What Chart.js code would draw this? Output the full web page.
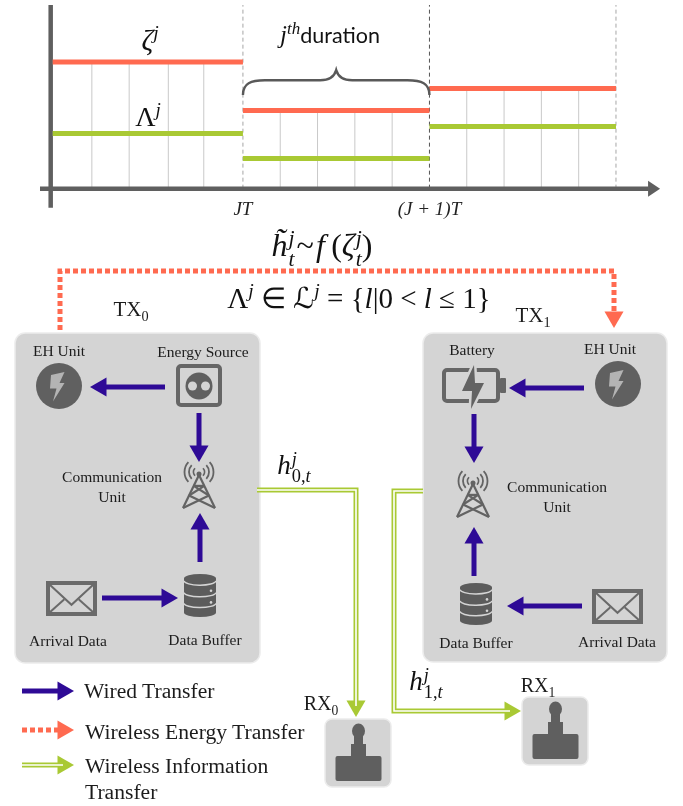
<!DOCTYPE html>
<html>
<head>
<meta charset="utf-8">
<script src="https://cdn.jsdelivr.net/npm/chart.js@4"></script>
<style>
html,body{margin:0;padding:0;background:#fff;overflow:hidden}
#wrap{position:relative;width:683px;height:806px}
canvas{position:absolute;left:0;top:0}
.t{position:absolute;white-space:nowrap;color:#1c1c1c;font-family:"Liberation Serif",serif;line-height:1}
.m{color:#111;font-size:23px}
sup,sub{font-size:.68em;line-height:0}
.ss{display:inline-flex;flex-direction:column;vertical-align:middle;font-size:.68em;line-height:.95;margin-left:1px}
</style>
</head>
<body>
<div id="wrap">
<canvas id="topChart" width="683" height="225" style="width:683px;height:225px"></canvas>
<canvas id="diagram" width="683" height="806" style="width:683px;height:806px"></canvas>
</div>
<script>
/* ---------- TOP PLOT DATA ---------- */
const durations   = [0, 1, 2, 3];             // boundaries, in units of T
const zetaLevels  = [0.689, 0.426, 0.546];    // red, one per duration
const lambdaLevels= [0.300, 0.164, 0.339];    // green, one per duration
const slotTicks   = [0.19,0.39,0.60,0.79, 1.2,1.4,1.6,1.8, 2.2,2.4,2.6,2.8];
const tickLabels  = {1:'JT', 2:'(J + 1)T'};

const RED='#ff6a50', GREEN='#a9c934', BLUE='#2e0a96', GREY='#5f5f5f', PANEL='#d4d4d4';

/* ---------- TOP PLOT ---------- */
const stepSeries = levels => levels.flatMap((v,i)=>[
  {x:i===0?-0.02:durations[i],y:v},{x:durations[i+1],y:v},{x:durations[i+1],y:null}
]);
const levelAt = x => zetaLevels[Math.min(Math.floor(x),2)];
const slotSeries = slotTicks.flatMap(x=>[{x,y:0},{x,y:levelAt(x)},{x,y:null}]);
const boundSeries = [1,2,3].map(x=>[{x,y:0},{x,y:1}]);

const line = (data,color,width,extra={}) => ({data,borderColor:color,borderWidth:width,showLine:true,
  pointRadius:0,spanGaps:false,clip:false,borderCapStyle:'butt',...extra});

const drawBrace = {
  id:'brace',
  afterDatasetsDraw(c){
    const {ctx,scales:{x,y}}=c;
    const l=x.getPixelForValue(1), r=x.getPixelForValue(2), m=(l+r)/2;
    const bot=y.getPixelForValue(0.51), mid=y.getPixelForValue(0.59), tip=y.getPixelForValue(0.645);
    ctx.save();
    ctx.strokeStyle='#595959';ctx.lineWidth=2.4;
    ctx.beginPath();
    ctx.moveTo(l,bot);
    ctx.bezierCurveTo(l,mid+3,l+8,mid,l+22,mid);
    ctx.lineTo(m-16,mid);
    ctx.bezierCurveTo(m-7,mid,m-2,mid-3,m,tip);
    ctx.bezierCurveTo(m+2,mid-3,m+7,mid,m+16,mid);
    ctx.lineTo(r-22,mid);
    ctx.bezierCurveTo(r-8,mid,r,mid+3,r,bot);
    ctx.stroke();
    // arrow head of the time axis
    const ay=y.getPixelForValue(0), ax=x.getPixelForValue(3.172);
    ctx.fillStyle=GREY;
    ctx.beginPath();ctx.moveTo(ax,ay-8);ctx.lineTo(ax+12,ay);ctx.lineTo(ax,ay+8);ctx.closePath();ctx.fill();
    ctx.restore();
  }
};

new Chart(document.getElementById('topChart'),{
  type:'scatter',
  data:{datasets:[
    line(stepSeries(zetaLevels),RED,5),
    line(stepSeries(lambdaLevels),GREEN,5),
    line([{x:-0.088,y:0},{x:3.175,y:0}],GREY,4.5),
    line([{x:-0.02-0.0107,y:-0.104},{x:-0.02-0.0107,y:1}],GREY,4.5),
    line(slotSeries,'#c9c9c9',1),
    line(boundSeries[0],'#a6a6a6',1,{borderDash:[4,3]}),
    line(boundSeries[1],'#555555',1,{borderDash:[4,3]}),
    line(boundSeries[2],'#a6a6a6',1,{borderDash:[4,3]})
  ]},
  options:{
    responsive:false,animation:false,
    layout:{autoPadding:false,padding:{left:40,right:23,top:5,bottom:0}},
    plugins:{legend:{display:false},tooltip:{enabled:false}},
    scales:{
      x:{type:'linear',min:-0.088,max:3.236,
        grid:{display:false},border:{display:false},
        afterBuildTicks:s=>{s.ticks=Object.keys(tickLabels).map(v=>({value:+v}));},
        afterFit:s=>{s.height=29;},
        ticks:{autoSkip:false,maxRotation:0,padding:-5,color:'#222',
          font:{family:'"Liberation Serif",serif',style:'italic',size:19},
          callback:v=>tickLabels[v]}},
      y:{type:'linear',min:-0.04,max:1,display:false}
    }
  },
  plugins:[drawBrace]
});

/* ---------- DIAGRAM LAYOUT ---------- */
const wiredArrows = [
  [165,387,90,387],[199,413,199,462],[200,562,200,513],[102,598,178,598],
  [584,388,509,388],[474,414,474,463],[474,576,474,527],[582,606,507,606],
  [22,691,74,691]
];
const energyLinks = [
  [[60,330],[60,271],[614,271],[614,328]],
  [[22,730],[74,730]]
];
const infoLinks = [
  [[257,490],[356,490],[356,717]],
  [[423,491],[394,491],[394,711],[521,711]],
  [[22,765],[74,765]]
];

const headR=11;
const headOf=(x1,y1,x2,y2)=>{          // centre of the triangle + rotation
  const a=Math.atan2(y2-y1,x2-x1), len=Math.hypot(x2-x1,y2-y1);
  return {x:x1+(x2-x1)*(len-headR)/len,y:y1+(y2-y1)*(len-headR)/len,rot:a*180/Math.PI+90};
};
const arrowSet=(pts,color,width,extra={})=>{
  const n=pts.length, h=headOf(...pts[n-2],...pts[n-1]);
  const data=pts.slice(0,-1).map(p=>({x:p[0],y:p[1]})).concat({x:h.x,y:h.y});
  return {data,showLine:true,borderColor:color,borderWidth:width,borderJoinStyle:'miter',clip:false,
    pointRadius:data.map((_,i)=>i===n-1?headR:0),pointRotation:data.map((_,i)=>i===n-1?h.rot:0),
    pointStyle:'triangle',pointBackgroundColor:color,pointBorderWidth:0,order:2,...extra};
};
const innerSet=pts=>{
  const n=pts.length, h=headOf(...pts[n-2],...pts[n-1]);
  const data=pts.slice(0,-1).map(p=>({x:p[0],y:p[1]})).concat({x:h.x,y:h.y});
  return {data,showLine:true,borderColor:'#ffffff',borderWidth:1.6,pointRadius:0,order:1,clip:false};
};

const diagramSets=[
  ...infoLinks.map(innerSet),
  ...infoLinks.map(p=>arrowSet(p,GREEN,5)),
  ...energyLinks.map(p=>arrowSet(p,RED,5,{borderDash:[5,3]})),
  ...wiredArrows.map(a=>arrowSet([[a[0],a[1]],[a[2],a[3]]],BLUE,5))
];

/* ---------- ICONS ---------- */
function rr(ctx,x,y,w,h,r){ctx.beginPath();ctx.roundRect(x,y,w,h,r);}
function poly(ctx,pts,cx=0,cy=0){ctx.beginPath();pts.forEach((p,i)=>i?ctx.lineTo(cx+p[0],cy+p[1]):ctx.moveTo(cx+p[0],cy+p[1]));ctx.closePath();}

function panel(ctx,x,y,w,h,r){
  rr(ctx,x,y,w,h,r);ctx.fillStyle=PANEL;ctx.fill();
  ctx.strokeStyle='#ececec';ctx.lineWidth=1.5;ctx.stroke();
}
function ehIcon(ctx,cx,cy){
  ctx.fillStyle='#606060';ctx.beginPath();ctx.arc(cx,cy,23,0,7);ctx.fill();
  ctx.fillStyle='#b4b4b4';
  poly(ctx,[[-8,-11],[5.5,-14],[0.5,-3],[5.5,-3],[-6,15.5],[-2.5,2.5],[-9,2.5]],cx,cy);ctx.fill();
}
function socketIcon(ctx,x,y,w,h){
  rr(ctx,x+2,y+2,w-4,h-4,3);ctx.strokeStyle='#666';ctx.lineWidth=4;ctx.stroke();
  const cx=x+w/2,cy=y+h/2+0.5;
  ctx.fillStyle='#606060';ctx.beginPath();ctx.arc(cx,cy,13.5,0,7);ctx.fill();
  ctx.fillStyle=PANEL;
  [-6.5,6.5].forEach(d=>{ctx.beginPath();ctx.arc(cx+d,cy,4.5,0,7);ctx.fill();});
}
function towerIcon(ctx,cx,top,bot){
  const hw=16,h=bot-top;
  const L=t=>[cx-hw*t,top+h*t],R=t=>[cx+hw*t,top+h*t];
  ctx.strokeStyle='#636363';ctx.lineWidth=2.2;
  const seg=(a,b)=>{ctx.beginPath();ctx.moveTo(...a);ctx.lineTo(...b);ctx.stroke();};
  seg(L(0),L(1));seg(R(0),R(1));
  seg(L(.33),R(.33));seg(L(.33),R(.62));seg(R(.33),L(.62));seg(L(.62),R(1));seg(R(.62),L(1));
  ctx.fillStyle='#636363';ctx.beginPath();ctx.arc(cx,top-1,2.5,0,7);ctx.fill();
  ctx.lineWidth=1.8;
  [5.5,10,14.5].forEach(r=>{
    ctx.beginPath();ctx.arc(cx,top-3,r,-0.75,0.75);ctx.stroke();
    ctx.beginPath();ctx.arc(cx,top-3,r,Math.PI-0.75,Math.PI+0.75);ctx.stroke();
  });
}
function envelopeIcon(ctx,x,y,w,h){
  ctx.strokeStyle='#6a6a6a';ctx.lineWidth=4;
  ctx.strokeRect(x+2,y+2,w-4,h-4);
  ctx.lineWidth=2;
  ctx.beginPath();ctx.moveTo(x+3,y+3);ctx.lineTo(x+w/2,y+h*.68);ctx.lineTo(x+w-3,y+3);ctx.stroke();
  ctx.beginPath();ctx.moveTo(x+3,y+h-3);ctx.lineTo(x+w*.36,y+h*.52);ctx.stroke();
  ctx.beginPath();ctx.moveTo(x+w-3,y+h-3);ctx.lineTo(x+w*.64,y+h*.52);ctx.stroke();
}
function dbIcon(ctx,x,y,w,h){
  const rx=w/2,ry=4.5,cx=x+rx;
  ctx.fillStyle='#5c5c5c';
  ctx.beginPath();ctx.ellipse(cx,y+ry,rx,ry,0,0,7);ctx.fill();
  ctx.fillRect(x,y+ry,w,h-2*ry);
  ctx.beginPath();ctx.ellipse(cx,y+h-ry,rx,ry,0,0,7);ctx.fill();
  ctx.strokeStyle=PANEL;ctx.lineWidth=1.5;
  [.26,.53,.78].forEach((t,i)=>{
    ctx.beginPath();ctx.ellipse(cx,y+h*t-ry,rx,ry,0,0.05,Math.PI-0.05);ctx.stroke();
    if(i<2){ctx.fillStyle=PANEL;ctx.beginPath();ctx.arc(x+w-5,y+h*(t+.13),1.3,0,7);ctx.fill();ctx.fillStyle='#5c5c5c';}
  });
}
function batteryIcon(ctx,x,y){
  rr(ctx,x+2,y+2,54,31,3);ctx.strokeStyle='#666';ctx.lineWidth=4;ctx.stroke();
  ctx.fillStyle='#666';rr(ctx,x+58,y+10,6,15,1);ctx.fill();
  const bolt=[[32,-3],[20,23],[30,23],[29,41],[42,15],[33,15]];
  poly(ctx,bolt,x,y);ctx.strokeStyle=PANEL;ctx.lineWidth=5;ctx.stroke();
  ctx.fillStyle='#636363';ctx.fill();
}
function rxIcon(ctx,x,y){
  panel(ctx,x,y,66,68,7);
  ctx.fillStyle=GREY;
  rr(ctx,x+10.5,y+37,46,25,2);ctx.fill();
  ctx.fillRect(x+26,y+25,15,13);
  ctx.fillRect(x+29,y+17,9,9);
  ctx.beginPath();ctx.ellipse(x+33.5,y+12,6.5,7.5,0,0,7);ctx.fill();
}

const drawIcons={
  id:'icons',
  beforeDatasetsDraw(c){
    const ctx=c.ctx;
    ctx.save();
    panel(ctx,15,333,245,330,10);
    panel(ctx,423,333,244,329,10);
    ehIcon(ctx,59,386);socketIcon(ctx,176,364,46,43);
    towerIcon(ctx,199,475,508);envelopeIcon(ctx,46,581,51,35);dbIcon(ctx,184,574,32,43);
    ehIcon(ctx,618,384);batteryIcon(ctx,442,368);
    towerIcon(ctx,473,484,517);envelopeIcon(ctx,592,589,51,35);dbIcon(ctx,460,583,32,42);
    rxIcon(ctx,325,719);rxIcon(ctx,522,697);
    ctx.restore();
  }
};

new Chart(document.getElementById('diagram'),{
  type:'scatter',
  data:{datasets:diagramSets},
  options:{
    responsive:false,animation:false,
    layout:{autoPadding:false,padding:0},
    plugins:{legend:{display:false},tooltip:{enabled:false}},
    scales:{
      x:{type:'linear',min:0,max:683,display:false},
      y:{type:'linear',min:0,max:806,reverse:true,display:false}
    }
  },
  plugins:[drawIcons]
});

/* ---------- TEXT ---------- */
const wrap=document.getElementById('wrap');
function label(x,y,html,size,cls='',anchor='c'){
  const d=document.createElement('div');
  d.className='t '+cls;d.innerHTML=html;
  d.style.left=x+'px';d.style.top=y+'px';
  if(size) d.style.fontSize=size+'px';
  d.style.transform=anchor==='c'?'translate(-50%,-50%)':'translateY(-50%)';
  wrap.appendChild(d);
}
const ss=(a,b)=>`<span class="ss"><i>${a}</i><span>${b}</span></span>`;

label(150,40,'<i>ζ</i><sup><i>j</i></sup>',29,'m');
label(148,117,'Λ<sup><i>j</i></sup>',28,'m');
label(330,35,'<i style="font-size:25px;font-family:\'Liberation Serif\'">j<sup>th</sup></i><span style="font-family:Lato">duration</span>',21.5,'m');
label(322,249,'<i>h̃</i>'+ss('<i>j</i>','<i>t</i>')+'<span style="margin:0 2px">~</span><i>f</i>&thinsp;(<i>ζ</i>'+ss('<i>j</i>','<i>t</i>')+')',32,'m');
label(359,298,'Λ<sup><i>j</i></sup> ∈ ℒ<sup><i>j</i></sup> = {<i>l</i>|0 &lt; <i>l</i> ≤ 1}',29,'m');
label(131,309,'TX<sub>0</sub>',21);
label(533,315,'TX<sub>1</sub>',21);

const labelSize=15.5;
label(59,351,'EH Unit',labelSize);
label(203,352,'Energy Source',labelSize);
label(112,477,'Communication',labelSize);
label(112,497,'Unit',labelSize);
label(68,641,'Arrival Data',labelSize);
label(205,640,'Data Buffer',labelSize);
label(472,350,'Battery',labelSize);
label(610,349,'EH Unit',labelSize);
label(557,487,'Communication',labelSize);
label(557,507,'Unit',labelSize);
label(476,643,'Data Buffer',labelSize);
label(617,642,'Arrival Data',labelSize);

label(294,468,'<i>h</i>'+ss('<i>j</i>','0,<i>t</i>'),27,'m');
label(426,684,'<i>h</i>'+ss('<i>j</i>','1,<i>t</i>'),27,'m');
label(321,703,'RX<sub>0</sub>',20);
label(538,685,'RX<sub>1</sub>',20);

const legendSize=21.6;
label(84,692,'Wired Transfer',legendSize,'','l');
label(85,733,'Wireless Energy Transfer',legendSize,'','l');
label(85,767,'Wireless Information',legendSize,'','l');
label(85,793,'Transfer',legendSize,'','l');
</script>
</body>
</html>
